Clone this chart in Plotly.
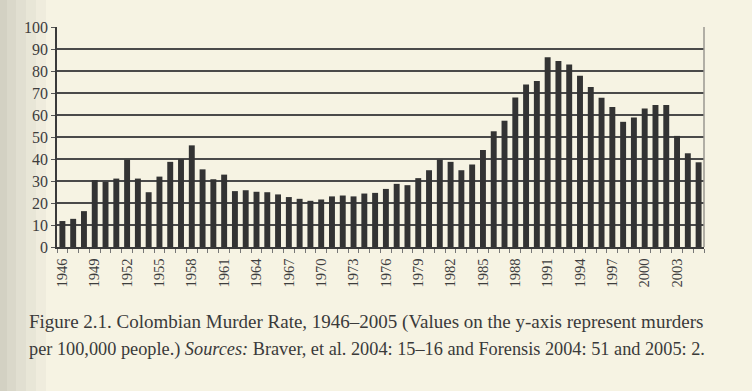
import plotly.graph_objects as go

years = list(range(1946, 2006))
rates = [11.8, 12.8, 16.3, 30.4, 29.6, 31.1, 39.7, 31.1, 24.9, 32.0,
         38.7, 39.9, 46.2, 35.3, 30.8, 32.9, 25.4, 25.8, 25.1, 24.9,
         23.9, 22.7, 21.9, 21.0, 21.6, 23.0, 23.4, 23.0, 24.3, 24.6,
         26.4, 28.7, 28.1, 31.3, 34.9, 39.7, 38.7, 34.9, 37.5, 44.1,
         52.6, 57.4, 68.0, 73.9, 75.5, 86.3, 84.6, 82.9, 77.8, 72.7,
         67.8, 63.6, 56.9, 58.9, 63.0, 64.5, 64.5, 50.5, 42.6, 38.5]
label_years = list(range(1946, 2004, 3))
y_ticks = list(range(0, 101, 10))

caption1 = "Figure 2.1. Colombian Murder Rate, 1946–2005 (Values on the y-axis represent murders"
caption2 = "per 100,000 people.) <i>Sources:</i> Braver, et al. 2004: 15–16 and Forensis 2004: 51 and 2005: 2."

PAPER = "#f6f3e3"
SERIF = "Liberation Serif, DejaVu Serif, serif"

fig = go.Figure()
fig.add_trace(go.Bar(x=years, y=rates, marker=dict(color="#333333", line=dict(width=0)),
                     width=0.55, hoverinfo="skip"))

shapes = []
# scanner shadow on left edge (paper coords: plot starts at 57px, width 647px)
for w, op in [(46, 0.05), (36, 0.05), (26, 0.06), (16, 0.07), (7, 0.07)]:
    shapes.append(dict(type="rect", xref="paper", yref="paper",
                       x0=-57 / 647, x1=(w - 57) / 647,
                       y0=-144 / 220, y1=1 + 27 / 220,
                       fillcolor="#7a7a70", opacity=op, line=dict(width=0), layer="below"))
# right border
shapes.append(dict(type="line", xref="paper", yref="paper", x0=1, x1=1, y0=0, y1=1,
                   line=dict(color="#9a9790", width=1.5)))

fig.update_layout(
    width=752, height=391,
    margin=dict(l=57, r=48, t=27, b=144),
    paper_bgcolor=PAPER, plot_bgcolor=PAPER,
    showlegend=False,
    shapes=shapes,
    xaxis=dict(
        range=[1945.5, 2005.5],
        tickmode="array", tickvals=label_years, ticktext=[str(y) for y in label_years],
        tickangle=-90, ticks="", showgrid=False, ticklabelstandoff=4,
        showline=True, linecolor="#3a3a3a", linewidth=1.5,
        tickfont=dict(family=SERIF, size=14.5, color="#3d3d3d"),
        minor=dict(tickvals=[y - 0.5 for y in years] + [years[-1] + 0.5],
                   ticks="outside", ticklen=4, tickcolor="#777777", tickwidth=1, showgrid=False),
        zeroline=False,
    ),
    yaxis=dict(
        range=[0, 100], tickvals=y_ticks,
        showgrid=True, gridcolor="#4a4a4a", gridwidth=1.5,
        showline=True, linecolor="#3a3a3a", linewidth=1.5,
        ticks="outside", ticklen=4, tickcolor="#555555",
        tickfont=dict(family=SERIF, size=16, color="#3d3d3d"),
        zeroline=False,
    ),
    annotations=[
        dict(text=caption1, xref="paper", yref="paper", x=-30 / 647, y=-(322 - 247) / 220,
             xanchor="left", yanchor="middle", showarrow=False,
             font=dict(family=SERIF, size=19, color="#3a3a3a")),
        dict(text=caption2, xref="paper", yref="paper", x=-30 / 647, y=-(349 - 247) / 220,
             xanchor="left", yanchor="middle", showarrow=False,
             font=dict(family=SERIF, size=18.3, color="#3a3a3a")),
    ],
)

fig.write_html("out.html", config={"displayModeBar": False},
               post_script="document.body.style.margin='0';document.body.style.background='#f6f3e3';")
